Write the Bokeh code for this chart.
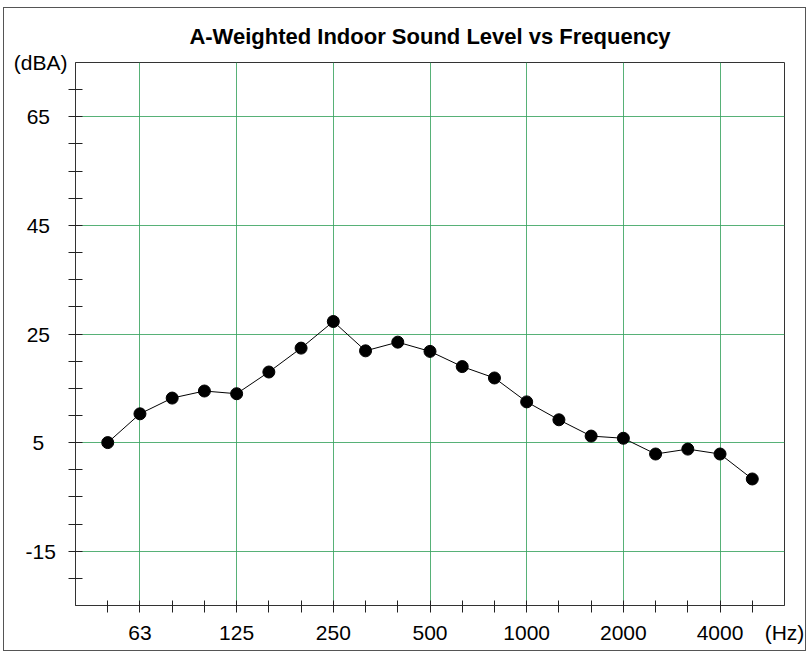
from bokeh.plotting import figure
from bokeh.models import Range1d, FixedTicker
from bokeh.embed import file_html
from bokeh.resources import INLINE

# ---- data ----
freqs = ["50", "63", "80", "100", "125", "160", "200", "250", "315", "400", "500",
         "630", "800", "1000", "1250", "1600", "2000", "2500", "3150", "4000", "5000"]
levels = [5.0, 10.3, 13.2, 14.5, 14.0, 18.0, 22.4, 27.3, 21.9, 23.5, 21.8,
          19.0, 16.9, 12.5, 9.2, 6.2, 5.8, 2.9, 3.8, 2.9, -1.7]
label_freqs = ["63", "125", "250", "500", "1000", "2000", "4000"]
x_unit = "(Hz)"
y_unit = "(dBA)"
y_major = [-15, 5, 25, 45, 65]
y_minor = list(range(-20, 75, 5))
y_top, y_bottom = 75, -25

xs = list(range(len(freqs)))
x_major = [freqs.index(f) for f in label_freqs]
x_unit_pos = len(freqs)

FONT = "Liberation Sans"
NB = "\u00a0"


def pad(s):
    # emulate centred tick labels on a right-aligned axis
    n = {1: 4, 2: 3, 3: 2}.get(len(s), 0)
    return s + NB * n


p = figure(width=803, height=644, output_backend="svg", toolbar_location=None,
           x_range=Range1d(-1, x_unit_pos), y_range=Range1d(y_bottom, y_top),
           min_border_left=71, min_border_right=23, min_border_top=54, min_border_bottom=47)

p.title.text = "A-Weighted Indoor Sound Level vs Frequency"
p.title.align = "center"
p.title.text_font = FONT
p.title.text_font_size = "22px"
p.title.text_font_style = "bold"
p.title.text_color = "black"
p.title.standoff = 27

p.outline_line_color = "#333333"
p.outline_line_width = 1
p.background_fill_color = "white"
p.border_fill_color = "white"

for ax in (p.xaxis[0], p.yaxis[0]):
    ax.axis_line_color = "#333333"
    ax.major_tick_line_color = None
    ax.minor_tick_line_color = "#222222"
    ax.major_label_text_font = FONT
    ax.major_label_text_font_size = "21px"
    ax.major_label_text_color = "black"

# x axis
xa = p.xaxis[0]
xa.ticker = FixedTicker(ticks=x_major + [x_unit_pos], minor_ticks=xs)
overrides = {i: freqs[i] for i in x_major}
overrides[x_unit_pos] = x_unit
xa.major_label_overrides = overrides
xa.major_tick_in = 5
xa.major_tick_out = 7
xa.minor_tick_in = 5
xa.minor_tick_out = 7
xa.major_label_standoff = 8

# y axis
ya = p.yaxis[0]
ya.ticker = FixedTicker(ticks=y_major + [y_top], minor_ticks=y_minor)
yo = {v: pad(str(v)) for v in y_major}
yo[y_top] = y_unit
ya.major_label_overrides = yo
ya.major_tick_in = 7
ya.major_tick_out = 7
ya.minor_tick_in = 7
ya.minor_tick_out = 7
ya.major_label_standoff = 1

p.xgrid[0].ticker = FixedTicker(ticks=x_major)
p.ygrid[0].ticker = FixedTicker(ticks=y_major)
for g in (p.xgrid[0], p.ygrid[0]):
    g.grid_line_color = "#3aa35f"
    g.grid_line_width = 1
    g.grid_line_alpha = 0.85

p.line(xs, levels, line_color="black", line_width=1)
p.scatter(xs, levels, size=12, fill_color="black", line_color="black")

p.styles = {"border": "1px solid #555555", "margin-left": "3px", "margin-top": "7px"}

open("out.html", "w").write(file_html(p, INLINE))
